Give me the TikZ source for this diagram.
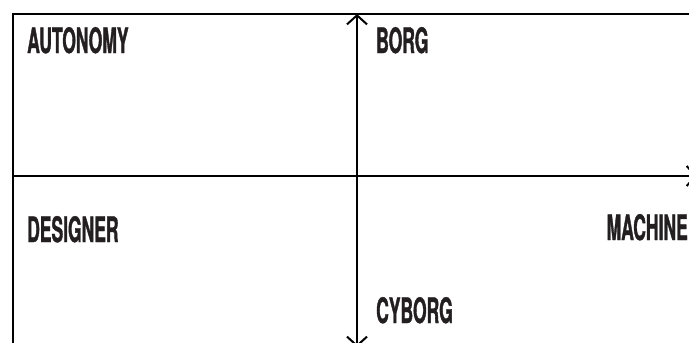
\documentclass[tikz,border=0pt]{standalone}
\usepackage{fontspec}
\newfontfamily\quadfont[FakeStretch=0.5, FakeBold=1]{TeX Gyre Heros}
\usetikzlibrary{arrows.meta, positioning}
\definecolor{inkgray}{HTML}{231F20}

\begin{document}
\begin{tikzpicture}[x=1pt, y=-1pt,
    frame/.style={line width=2.2pt, black},
    axis/.style={line width=2.2pt, black, arrows={Straight Barb[length=9pt,width=20pt,line width=2pt]-Straight Barb[length=9pt,width=20pt,line width=2pt]}},
    quad/.style={anchor=base west, inner sep=0pt, text=inkgray, font=\quadfont\bfseries\fontsize{35}{35}\selectfont}
]
    \clip (0,0) rectangle (689,343);
    \useasboundingbox (0,0) rectangle (689,343);
    % frame corners and axis ends
    \coordinate (tl) at (13,14);
    \coordinate (tr) at (700,14);
    \coordinate (bl) at (13,360);
    \coordinate (ytop) at (357,14);
    \coordinate (ybot) at (357,347);
    \coordinate (xleft) at (13,176);
    \coordinate (xright) at (697,176);
    \draw[frame] (bl) -- (tl) -- (tr);
    \draw[axis, -{Straight Barb[length=9pt,width=20pt,line width=2pt]}] (xleft) -- (xright);
    \draw[axis] (ybot) -- (ytop);
    % quadrant labels
    \node[quad] (autonomy) at (27,53) {AUTONOMY};
    \node[quad] (borg) at (376,53) {BORG};
    \node[quad] (designer) at (27,242) {DESIGNER};
    \node[quad, anchor=base east] (machine) at (688,240) {MACHINE};
    \node[quad] (cyborg) at (376,323) {CYBORG};
\end{tikzpicture}
\end{document}
